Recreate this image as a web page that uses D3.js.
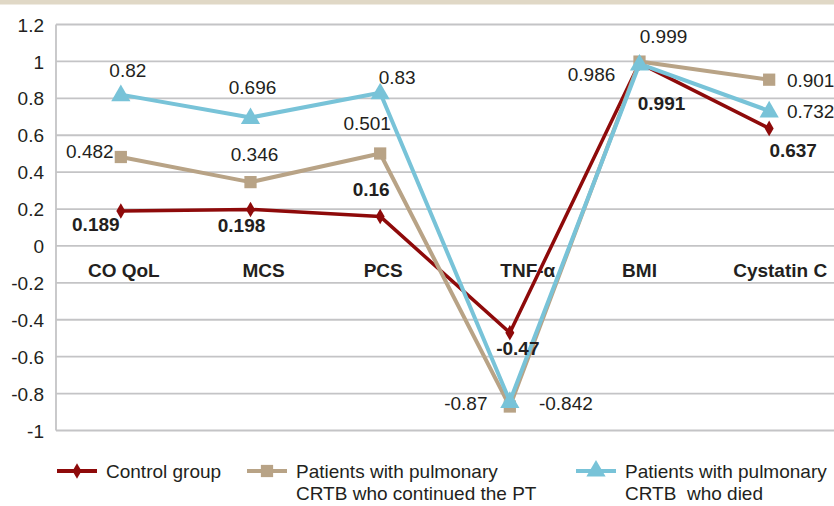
<!DOCTYPE html>
<html>
<head>
<meta charset="utf-8">
<script src="https://cdn.jsdelivr.net/npm/d3@7"></script>
<style>
  html, body { margin: 0; padding: 0; background: #fff; }
  svg { display: block; font-family: "Liberation Sans", Arial, sans-serif; }
</style>
</head>
<body>
<svg id="chart" width="834" height="506"></svg>
<script>
// ---- data ----
const categories = ["CO QoL", "MCS", "PCS", "TNF-\u03b1", "BMI", "Cystatin C"];
const controlGroup = [0.189, 0.198, 0.16, -0.47, 0.991, 0.637];
const continuedPT = [0.482, 0.346, 0.501, -0.87, 0.999, 0.901];
const diedGroup = [0.82, 0.696, 0.83, -0.842, 0.986, 0.732];
const yTicks = [1.2, 1, 0.8, 0.6, 0.4, 0.2, 0, -0.2, -0.4, -0.6, -0.8, -1];
const seriesNames = ["Control group", "Patients with pulmonary\nCRTB who continued the PT", "Patients with pulmonary\nCRTB  who died"];

// label placement (offset of label centre from point), kept apart from values
const labelOffsets = [
  [[-25, 13], [-9, 16], [-9, -27], [8, 16], [22, 40], [24, 22]],
  [[-31, -6], [4, -28], [-13, -30], [-44, -3], [24, -25], [41.5, 1]],
  [[7, -24], [2, -30], [17, -15], [56, 2], [-48, 10], [41.5, 0]]
];
// horizontal shift of category labels from band centre
const categoryLabelShift = [3, 13, 3, 18, 0, 11];

const series = [
  { name: seriesNames[0], values: controlGroup, color: "#8e0a0a", marker: "diamond", bold: true, width: 3.5 },
  { name: seriesNames[1], values: continuedPT, color: "#b8a386", marker: "square", bold: false, width: 4 },
  { name: seriesNames[2], values: diedGroup, color: "#78c3d8", marker: "triangle", bold: false, width: 4 }
];

const svg = d3.select("#chart");
const W = 834, H = 506;
const mLeft = 56, mRight = 834, mTop = 24.5, mBottom = 430.5;

// top band
svg.append("rect").attr("x", 0).attr("y", 0).attr("width", W).attr("height", 4.5).attr("fill", "#e0d8c6");

const x = d3.scaleBand().domain(categories).range([mLeft, mRight]).padding(0);
const y = d3.scaleLinear().domain([-1, 1.2]).range([mBottom, mTop]);
const cx = c => x(c) + x.bandwidth() / 2;

// gridlines
svg.append("g").selectAll("line").data(yTicks).join("line")
  .attr("x1", mLeft).attr("x2", mRight)
  .attr("y1", d => y(d)).attr("y2", d => y(d))
  .attr("stroke", "#c4c4c6").attr("stroke-width", 1.8);
// left axis line
svg.append("line").attr("x1", mLeft).attr("x2", mLeft).attr("y1", mTop).attr("y2", mBottom)
  .attr("stroke", "#c4c4c6").attr("stroke-width", 1.8);

// y tick labels via axis
const yAxis = d3.axisLeft(y).tickValues(yTicks).tickSize(0).tickPadding(0)
  .tickFormat(d => String(d));
const gy = svg.append("g").attr("transform", `translate(44,0)`).call(yAxis);
gy.select(".domain").remove();
gy.selectAll("text").attr("font-size", 19).attr("fill", "#231f20")
  .attr("font-family", "Liberation Sans, Arial, sans-serif").attr("dy", "0.35em");

// category labels
svg.append("g").selectAll("text").data(categories).join("text")
  .attr("x", (d, i) => cx(d) + categoryLabelShift[i]).attr("y", 270).attr("dy", "0.35em")
  .attr("text-anchor", "middle").attr("font-size", 19).attr("font-weight", "bold")
  .attr("fill", "#231f20").text(d => d);

// marker path
function markerPath(type) {
  if (type === "diamond") return d3.symbol(d3.symbolDiamond, 70)();
  if (type === "square") return d3.symbol(d3.symbolSquare, 150)();
  return d3.symbol(d3.symbolTriangle, 160)();
}

const line = d3.line().x((d, i) => cx(categories[i])).y(d => y(d));

series.forEach(s => {
  svg.append("path").datum(s.values).attr("d", line)
    .attr("fill", "none").attr("stroke", s.color).attr("stroke-width", s.width)
    .attr("stroke-linejoin", "round");
});
series.forEach(s => {
  svg.append("g").selectAll("path").data(s.values).join("path")
    .attr("d", markerPath(s.marker))
    .attr("transform", (d, i) => `translate(${cx(categories[i])},${y(d) + (s.marker === "triangle" ? 1 : 0)})`)
    .attr("fill", s.color);
});

// data labels
series.forEach((s, si) => {
  svg.append("g").selectAll("text").data(s.values).join("text")
    .attr("x", (d, i) => cx(categories[i]) + labelOffsets[si][i][0])
    .attr("y", (d, i) => y(d) + labelOffsets[si][i][1])
    .attr("dy", "0.35em").attr("text-anchor", "middle")
    .attr("font-size", 19).attr("font-weight", s.bold ? "bold" : "normal")
    .attr("fill", "#231f20").text(d => String(d));
});

// legend
const legendX = [57, 247, 576];
const legendTextX = [106, 296, 625];
series.forEach((s, i) => {
  const g = svg.append("g");
  g.append("line").attr("x1", legendX[i]).attr("x2", legendX[i] + 40)
    .attr("y1", 471).attr("y2", 471).attr("stroke", s.color).attr("stroke-width", 4);
  g.append("path").attr("d", markerPath(s.marker))
    .attr("transform", `translate(${legendX[i] + 20},471)`).attr("fill", s.color);
  const lines = s.name.split("\n");
  const t = g.append("text").attr("x", legendTextX[i]).attr("y", 471)
    .attr("font-size", 19).attr("fill", "#231f20");
  lines.forEach((ln, k) => {
    t.append("tspan").attr("x", legendTextX[i]).attr("dy", k === 0 ? "0.35em" : "1.2em")
      .style("white-space", "pre").text(ln);
  });
});
</script>
</body>
</html>
